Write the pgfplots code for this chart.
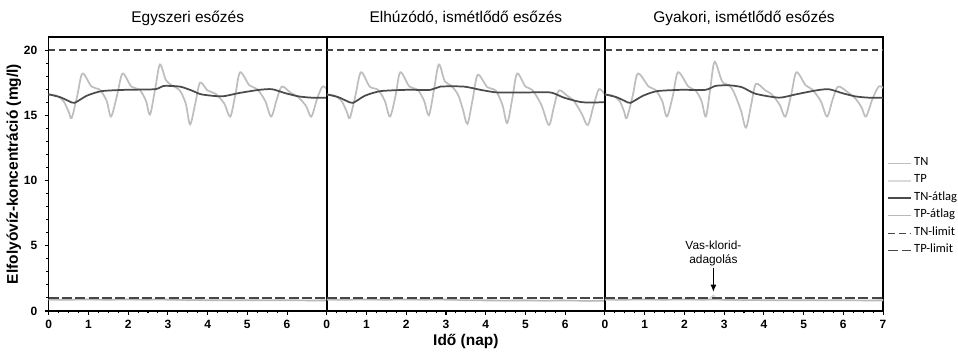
\documentclass[border=0pt]{standalone}
\usepackage{fontspec}
\setmainfont{Liberation Sans}
\newfontfamily\carlito{Carlito}
\usepackage{pgfplots}
\pgfplotsset{compat=1.18}
\usetikzlibrary{arrows.meta}

\definecolor{tncol}{RGB}{190,190,190}
\definecolor{tnavg}{RGB}{75,75,75}
\definecolor{tpcol}{RGB}{218,218,218}
\definecolor{tpavg}{RGB}{185,185,185}
\definecolor{limcol}{RGB}{70,70,70}

\pgfplotsset{
 panel/.style={
  scale only axis, width=208.6pt, height=205.5pt,
  xmin=0, xmax=7, ymin=0, ymax=21,
  anchor=south west,
  axis line style={line width=1.2pt},
  tick style={line width=0.8pt, black},
  major tick length=3pt, minor tick length=1.8pt,
  tick align=outside,
  xtick pos=bottom, ytick pos=left,
  minor x tick num=3,
  /pgf/number format/assume math mode=true,
  ticklabel style={font=\bfseries\fontsize{9}{10}\selectfont},
  xticklabel style={anchor=base, yshift=-10.2pt},
  yticklabel style={xshift=-2pt},
  title style={at={(0.5,1)}, anchor=base, yshift=4.7pt, font=\fontsize{11.6}{13}\selectfont},
 },
 tn/.style={color=tncol, line width=1.3pt, smooth, tension=0.5},
 tnavg/.style={color=tnavg, line width=1.3pt, smooth, tension=0.4},
 tp/.style={color=tpcol, line width=1.1pt, smooth, tension=0.5},
 tpavg/.style={color=tpavg, line width=1.1pt},
 tnlim/.style={color=limcol, line width=0.9pt, dash pattern=on 5pt off 3pt},
 tplim/.style={color=limcol, line width=0.9pt, dash pattern=on 7.5pt off 2.5pt},
}

\begin{document}
\begin{tikzpicture}
\useasboundingbox (0,0) rectangle (718.5pt,265.5pt);

% Panel 1
\begin{axis}[panel, at={(36.5pt,32.25pt)},
  xtick={0,...,6}, ytick={0,5,10,15,20}, minor y tick num=4,
  title={Egyszeri esőzés},
  ylabel={Elfolyóvíz-koncentráció (mg/l)},
  ylabel style={at={(axis description cs:-0.125,0.5)}, anchor=center, font=\bfseries\fontsize{11.6}{13}\selectfont},
]
\addplot[tn] coordinates {(0,16.6) (0.2,16.5) (0.37,16.1) (0.5,15.3) (0.58,14.8) (0.72,16.5) (0.85,18.2) (1.08,17.2) (1.29,16.95) (1.46,16.1) (1.57,14.9) (1.72,16.5) (1.86,18.2) (2.08,17.2) (2.29,16.95) (2.45,16.1) (2.55,15.05) (2.68,17.0) (2.80,18.9) (2.95,17.7) (3.1,17.3) (3.3,16.9) (3.45,15.9) (3.56,14.3) (3.69,15.9) (3.81,17.5) (4.0,16.9) (4.2,16.65) (4.42,15.9) (4.57,14.9) (4.7,16.6) (4.82,18.3) (5.05,17.3) (5.25,17.0) (5.45,16.1) (5.6,14.9) (5.74,16.2) (5.87,17.2) (6.1,16.7) (6.28,16.4) (6.48,15.7) (6.61,14.9) (6.76,16.3) (6.89,17.2) (7.0,17.0)};
\addplot[tp] coordinates {(0,0.88) (0.5,0.82) (0.85,0.92) (1.5,0.83) (1.85,0.92) (2.5,0.84) (2.8,0.95) (3.5,0.8) (3.8,0.9) (4.5,0.83) (4.8,0.92) (5.5,0.82) (5.9,0.88) (6.5,0.82) (7,0.86)};
\addplot[tnavg] coordinates {(0,16.6) (0.28,16.4) (0.5,16.1) (0.65,15.95) (0.96,16.5) (1.33,16.85) (1.92,16.95) (2.68,17.0) (2.89,17.25) (3.3,17.2) (3.6,16.9) (3.85,16.6) (4.36,16.45) (4.78,16.7) (5.3,16.95) (5.62,17.0) (5.95,16.7) (6.29,16.45) (6.62,16.35) (7.0,16.35)};
\addplot[tpavg] coordinates {(0,0.88) (2,0.88) (3,0.86) (4,0.82) (7,0.8)};
\addplot[tnlim] coordinates {(0,20) (7,20)};
\addplot[tplim] coordinates {(0,1) (7,1)};
\end{axis}

% Panel 2
\begin{axis}[panel, at={(245.1pt,32.25pt)},
  xtick={0,...,6}, ytick=\empty,
  title={Elhúzódó, ismétlődő esőzés},
  xlabel={Idő (nap)},
  xlabel style={at={(axis description cs:0.5,-0.1277)}, anchor=base, font=\bfseries\fontsize{11.6}{13}\selectfont},
]
\addplot[tn] coordinates {(0,16.6) (0.2,16.5) (0.37,16.1) (0.5,15.3) (0.58,14.8) (0.72,16.5) (0.86,18.3) (1.08,17.2) (1.29,16.95) (1.46,16.1) (1.59,14.9) (1.73,16.5) (1.85,18.3) (2.08,17.2) (2.29,16.95) (2.45,16.1) (2.57,15.0) (2.7,17.0) (2.82,18.9) (2.97,17.6) (3.12,17.3) (3.3,16.6) (3.42,15.5) (3.54,14.35) (3.67,16.2) (3.8,18.1) (4.04,17.15) (4.25,16.9) (4.42,15.8) (4.54,14.4) (4.67,16.3) (4.79,18.2) (5.0,17.2) (5.17,16.95) (5.4,15.8) (5.59,14.25) (5.72,15.7) (5.84,16.9) (6.05,16.5) (6.22,16.1) (6.42,15.1) (6.57,14.25) (6.72,15.8) (6.85,17.0) (7.0,16.6)};
\addplot[tp] coordinates {(0,0.88) (0.5,0.82) (0.85,0.92) (1.5,0.83) (1.85,0.92) (2.5,0.84) (2.8,0.95) (3.5,0.8) (3.8,0.9) (4.5,0.8) (4.8,0.88) (5.5,0.78) (5.9,0.85) (6.5,0.78) (7,0.82)};
\addplot[tnavg] coordinates {(0,16.6) (0.28,16.4) (0.5,16.1) (0.66,15.95) (0.96,16.5) (1.35,16.85) (2.0,16.95) (2.61,16.95) (2.86,17.2) (3.45,17.2) (3.87,16.95) (4.29,16.75) (5.0,16.75) (5.63,16.75) (5.97,16.35) (6.43,16.0) (7.0,16.0)};
\addplot[tpavg] coordinates {(0,0.88) (2,0.88) (3,0.86) (4,0.8) (7,0.78)};
\addplot[tnlim] coordinates {(0,20) (7,20)};
\addplot[tplim] coordinates {(0,1) (7,1)};
\end{axis}

% Panel 3
\begin{axis}[panel, at={(453.7pt,32.25pt)},
  xtick={0,...,7}, ytick=\empty,
  title={Gyakori, ismétlődő esőzés},
  legend image code/.code={\draw[#1] (0pt,0pt) -- (17.25pt,0pt);},
  legend style={at={(rel axis cs:1.0148,0.571)}, anchor=north west, draw=none, fill=none,
    inner sep=0pt, row sep=0pt, column sep=1.5pt, font=\carlito\fontsize{9.4}{10}\selectfont,
    nodes={inner sep=0pt, text height=8pt, text depth=5.05pt, anchor=west}},
  legend cell align=left,
]
\addplot[tn] coordinates {(0,16.6) (0.2,16.5) (0.37,16.1) (0.48,15.3) (0.55,14.8) (0.7,16.5) (0.83,18.2) (1.1,17.2) (1.27,16.95) (1.44,16.1) (1.56,14.9) (1.71,16.5) (1.84,18.3) (2.1,17.2) (2.28,16.9) (2.43,16.1) (2.54,14.9) (2.65,17.0) (2.76,19.1) (2.95,17.6) (3.12,17.3) (3.24,16.8) (3.42,15.4) (3.55,14.05) (3.68,15.8) (3.8,17.4) (4.04,16.9) (4.2,16.6) (4.4,15.8) (4.54,14.9) (4.69,16.6) (4.82,18.3) (5.05,17.3) (5.21,17.0) (5.43,16.1) (5.59,14.9) (5.73,16.2) (5.87,17.2) (6.14,16.7) (6.3,16.3) (6.46,15.6) (6.57,14.9) (6.74,16.3) (6.89,17.2) (7.0,17.1)};
\addlegendentry{TN}
\addplot[tp] coordinates {(0,0.88) (0.5,0.82) (0.85,0.92) (1.5,0.83) (1.85,0.92) (2.45,0.84) (2.62,0.9) (2.73,1.2) (2.85,0.9) (3.5,0.8) (3.8,0.9) (4.5,0.83) (4.8,0.92) (5.5,0.82) (5.9,0.88) (6.5,0.82) (7,0.86)};
\addlegendentry{TP}
\addplot[tnavg] coordinates {(0,16.6) (0.28,16.4) (0.5,16.1) (0.64,15.95) (0.96,16.5) (1.31,16.85) (1.9,16.95) (2.53,16.95) (2.78,17.25) (3.12,17.3) (3.45,17.15) (3.79,16.65) (4.38,16.35) (4.8,16.6) (5.3,16.9) (5.63,17.0) (5.97,16.7) (6.3,16.45) (6.64,16.35) (7.0,16.35)};
\addlegendentry{TN-átlag}
\addplot[tpavg] coordinates {(0,0.88) (2,0.88) (3,0.86) (4,0.82) (7,0.8)};
\addlegendentry{TP-átlag}
\addplot[tnlim] coordinates {(0,20) (7,20)};
\addlegendentry{TN-limit}
\addplot[tplim] coordinates {(0,1) (7,1)};
\addlegendentry{TP-limit}
\node[align=center, font=\fontsize{8.9}{10.5}\selectfont] at (axis cs:2.73,4.45) {Vas-klorid-\\adagolás};
\draw[black, line width=1.3pt, -{Latex[length=5.5pt,width=4.5pt]}] (axis cs:2.73,3.3) -- (axis cs:2.73,1.45);
\end{axis}
\end{tikzpicture}
\end{document}
